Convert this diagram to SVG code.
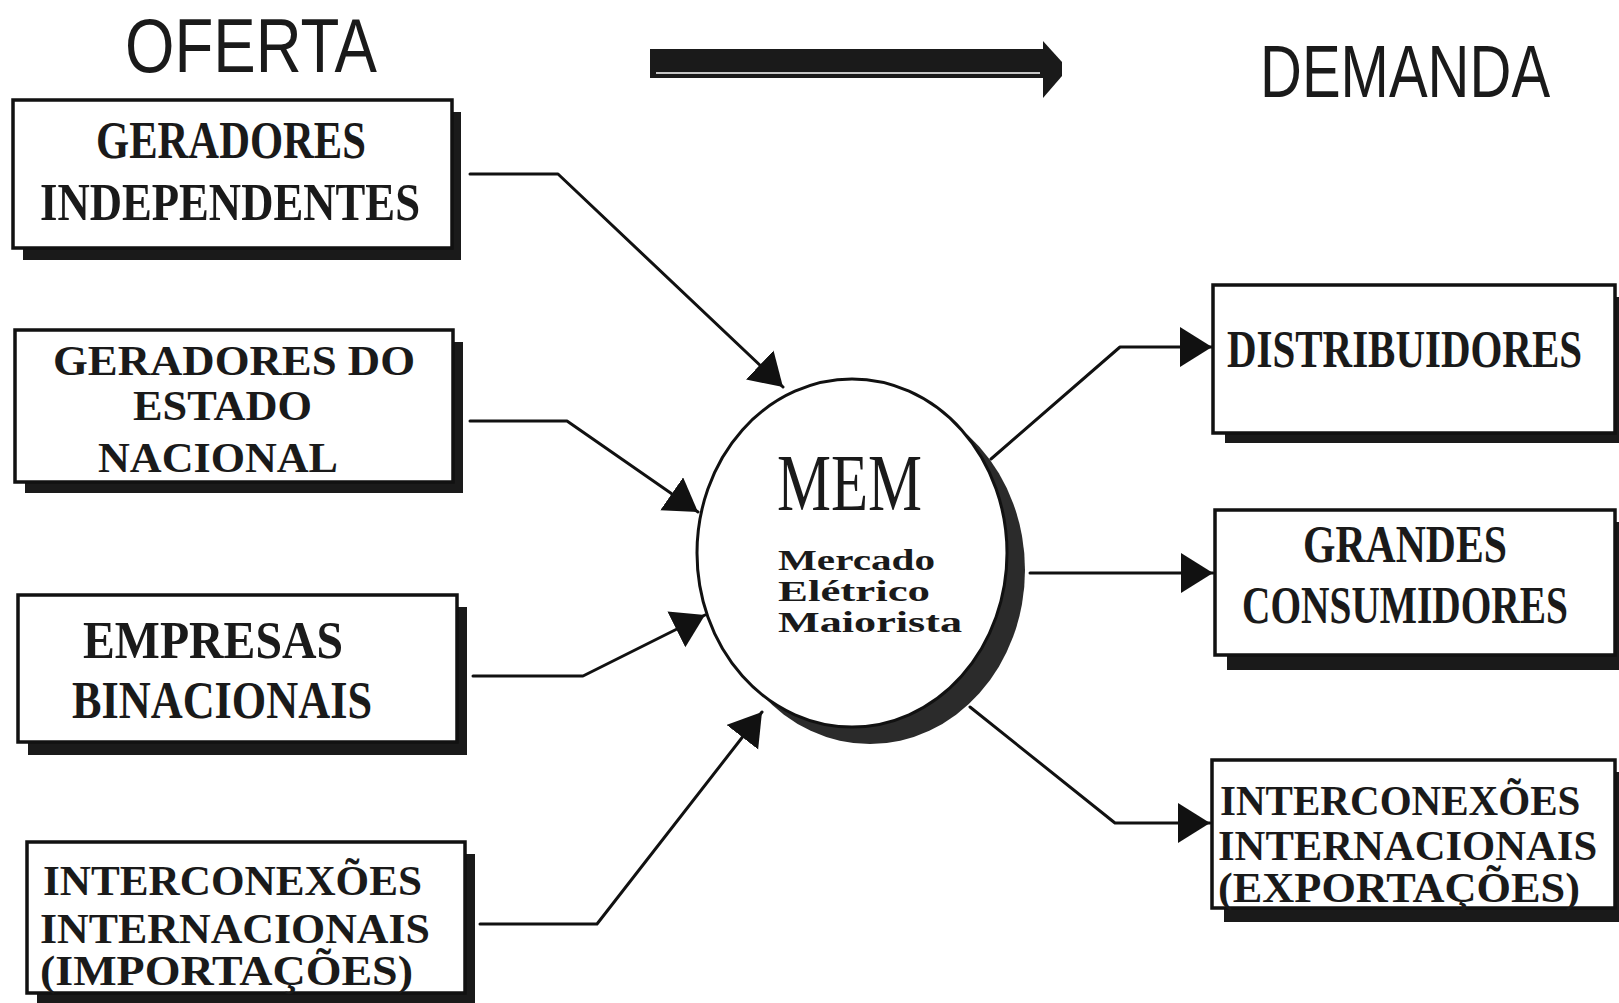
<svg xmlns="http://www.w3.org/2000/svg" width="1619" height="1003" viewBox="0 0 1619 1003">
<style>
.shadow{fill:#1a1a1a}
.box{fill:#fff;stroke:#111;stroke-width:3.5}
.lbl{font-family:"Liberation Serif","DejaVu Serif",serif;font-weight:bold;fill:#1a1a1a;font-size:52px}
.lbl3{font-size:42px}
.title{font-family:"Liberation Sans","DejaVu Sans",sans-serif;fill:#1a1a1a}
.conn{fill:none;stroke:#111;stroke-width:3;stroke-linejoin:round;stroke-linecap:round}
.sub{font-family:"Liberation Serif","DejaVu Serif",serif;font-weight:bold;font-size:30px;fill:#1a1a1a}
</style>
<defs>
<marker id="ah" markerUnits="userSpaceOnUse" markerWidth="40" markerHeight="44" refX="32" refY="20" orient="auto" viewBox="0 0 40 44">
<path d="M0,0 L32,20 L0,40 Z" fill="#111"/>
</marker>
</defs>
<rect x="0" y="0" width="1619" height="1003" fill="#fff"/>

<g id="titles">
<text class="title" x="125" y="72" font-size="76" textLength="252" lengthAdjust="spacingAndGlyphs">OFERTA</text>
<text class="title" transform="translate(1260,97) scale(0.784,1)" x="0" y="0" font-size="74" textLength="370" lengthAdjust="spacingAndGlyphs">DEMANDA</text>
</g>

<g id="flow-arrow">
<rect x="650" y="49" width="395" height="29" fill="#1a1a1a"/>
<line x1="656" y1="73" x2="1040" y2="73" stroke="#fff" stroke-width="1.5"/>
<path d="M1043,41 L1062,62 L1062,76 L1043,98 Z" fill="#1a1a1a"/>
</g>

<g id="connectors">
<polyline class="conn" points="470,174 558,174 783,387" marker-end="url(#ah)"/>
<polyline class="conn" points="470,421 567,421 698,512" marker-end="url(#ah)"/>
<polyline class="conn" points="473,676 583,676 705,615" marker-end="url(#ah)"/>
<polyline class="conn" points="480,924 597,924 762,712" marker-end="url(#ah)"/>
<polyline class="conn" points="991,459 1120,347 1212,347" marker-end="url(#ah)"/>
<polyline class="conn" points="1030,573 1213,573" marker-end="url(#ah)"/>
<polyline class="conn" points="970,707 1115,823 1210,823" marker-end="url(#ah)"/>
</g>

<g id="node-geradores-independentes">
<rect class="shadow" x="23" y="112" width="438" height="148"/>
<rect class="box" x="13" y="100" width="439" height="148"/>
<text class="lbl" x="96" y="158" textLength="270" lengthAdjust="spacingAndGlyphs">GERADORES</text>
<text class="lbl" x="40" y="220" textLength="380" lengthAdjust="spacingAndGlyphs">INDEPENDENTES</text>
</g>

<g id="node-geradores-estado">
<rect class="shadow" x="25" y="342" width="438" height="151"/>
<rect class="box" x="15" y="330" width="438" height="152"/>
<text class="lbl lbl3" x="53" y="375" textLength="362" lengthAdjust="spacingAndGlyphs">GERADORES DO</text>
<text class="lbl lbl3" x="133" y="420" textLength="179" lengthAdjust="spacingAndGlyphs">ESTADO</text>
<text class="lbl lbl3" x="98" y="472" textLength="240" lengthAdjust="spacingAndGlyphs">NACIONAL</text>
</g>

<g id="node-empresas-binacionais">
<rect class="shadow" x="28" y="607" width="439" height="148"/>
<rect class="box" x="18" y="595" width="439" height="147"/>
<text class="lbl" x="83" y="658" textLength="260" lengthAdjust="spacingAndGlyphs">EMPRESAS</text>
<text class="lbl" x="72" y="718" textLength="300" lengthAdjust="spacingAndGlyphs">BINACIONAIS</text>
</g>

<g id="node-importacoes">
<rect class="shadow" x="37" y="854" width="438" height="160"/>
<rect class="box" x="27" y="842" width="438" height="151"/>
<text class="lbl lbl3" x="43" y="895" textLength="379" lengthAdjust="spacingAndGlyphs">INTERCONEXÕES</text>
<text class="lbl lbl3" x="40" y="943" textLength="390" lengthAdjust="spacingAndGlyphs">INTERNACIONAIS</text>
<text class="lbl lbl3" x="40" y="985" textLength="373" lengthAdjust="spacingAndGlyphs">(IMPORTAÇÕES)</text>
</g>

<g id="node-mem">
<ellipse cx="870" cy="570" rx="155" ry="174" fill="#2b2b2b"/>
<ellipse cx="852" cy="553" rx="155" ry="174" fill="#fff" stroke="#111" stroke-width="3"/>
<text x="777" y="510" font-family="Liberation Serif, DejaVu Serif, serif" font-size="80" fill="#1a1a1a" textLength="145" lengthAdjust="spacingAndGlyphs">MEM</text>
<text class="sub" x="778" y="570" textLength="157" lengthAdjust="spacingAndGlyphs">Mercado</text>
<text class="sub" x="778" y="601" textLength="152" lengthAdjust="spacingAndGlyphs">Elétrico</text>
<text class="sub" x="778" y="632" textLength="184" lengthAdjust="spacingAndGlyphs">Maiorista</text>
</g>

<g id="node-distribuidores">
<rect class="shadow" x="1225" y="297" width="400" height="146"/>
<rect class="box" x="1213" y="285" width="402" height="148"/>
<text class="lbl" transform="translate(1227,367) scale(0.77,1)" x="0" y="0" textLength="461" lengthAdjust="spacingAndGlyphs">DISTRIBUIDORES</text>
</g>

<g id="node-grandes-consumidores">
<rect class="shadow" x="1227" y="522" width="400" height="148"/>
<rect class="box" x="1215" y="510" width="400" height="145"/>
<text class="lbl" transform="translate(1303,562) scale(0.8,1)" x="0" y="0" textLength="255" lengthAdjust="spacingAndGlyphs">GRANDES</text>
<text class="lbl" transform="translate(1242,623) scale(0.758,1)" x="0" y="0" textLength="430" lengthAdjust="spacingAndGlyphs">CONSUMIDORES</text>
</g>

<g id="node-exportacoes">
<rect class="shadow" x="1224" y="772" width="400" height="150"/>
<rect class="box" x="1212" y="760" width="403" height="148"/>
<text class="lbl lbl3" transform="translate(1220,815) scale(0.91,1)" x="0" y="0" textLength="396" lengthAdjust="spacingAndGlyphs">INTERCONEXÕES</text>
<text class="lbl lbl3" transform="translate(1218,860) scale(0.927,1)" x="0" y="0" textLength="409" lengthAdjust="spacingAndGlyphs">INTERNACIONAIS</text>
<text class="lbl lbl3" x="1218" y="902" textLength="362" lengthAdjust="spacingAndGlyphs">(EXPORTAÇÕES)</text>
</g>
</svg>
